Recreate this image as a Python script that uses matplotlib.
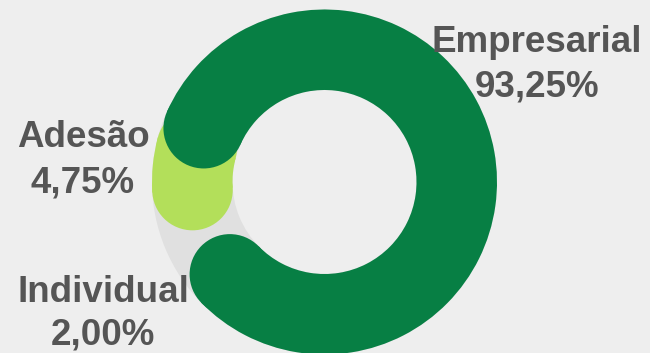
import matplotlib
matplotlib.use("Agg")
import matplotlib.pyplot as plt
from matplotlib.patches import Wedge, Circle
import numpy as np

# Data
categories = ["Empresarial", "Individual", "Adesão"]
shares = [93.25, 2.00, 4.75]
value_labels = ["93,25%", "2,00%", "4,75%"]

# Style
BG = "#eeeeee"
TRACK = "#e0e0e0"
DARK = "#077f44"
LIGHT = "#b3df5a"
TXT = "#555555"

W, H = 650, 353
fig = plt.figure(figsize=(W / 100, H / 100), dpi=100, facecolor=BG)
ax = fig.add_axes([0, 0, 1, 1])
ax.set_xlim(0, W)
ax.set_ylim(0, H)
ax.set_facecolor(BG)
ax.axis("off")

cx, cy = 324.5, 171.0
r_out, r_in = 172.5, 92.0
r_mid = (r_out + r_in) / 2
half = (r_out - r_in) / 2

# segment boundaries (clockwise from start angle)
start = 178.0
bounds = [start]
for s in shares:
    bounds.append(bounds[-1] - s * 3.6)


def rounded_arc(a_from, a_to, color, z):
    """Band from a_from counter-clockwise to a_to with round caps."""
    ax.add_patch(Wedge((cx, cy), r_out, a_from, a_to, width=r_out - r_in,
                       facecolor=color, edgecolor="none", zorder=z))
    for a in (a_from, a_to):
        t = np.radians(a)
        ax.add_patch(Circle((cx + r_mid * np.cos(t), cy + r_mid * np.sin(t)),
                            half, facecolor=color, edgecolor="none", zorder=z))


# background track (Individual shows as the track colour)
ax.add_patch(Wedge((cx, cy), r_out, 0, 360, width=r_out - r_in,
                   facecolor=TRACK, edgecolor="none", zorder=1))

# Adesão (light green), partly hidden under the Empresarial cap
ade_lo = bounds[2] + 360 - 11.6
rounded_arc(ade_lo - 18.5, ade_lo, LIGHT, 2)

# Empresarial (dark green)
inset = 22.0
rounded_arc(bounds[1] + inset, bounds[0] - inset, DARK, 3)

font = dict(family=["Liberation Sans", "DejaVu Sans"], weight="bold",
            color=TXT, fontsize=26.5, ha="center", va="baseline")

pos = {
    "Empresarial": (537, H - 52, H - 97),
    "Adesão": (83, H - 147, H - 192),
    "Individual": (103, H - 302, H - 344),
}
for cat, vl in zip(categories, value_labels):
    x, y1, y2 = pos[cat]
    ax.text(x, y1, cat, zorder=5, **font)
    ax.text(x, y2, vl, zorder=5, **font)

fig.savefig("out.png", dpi=100, facecolor=BG)
